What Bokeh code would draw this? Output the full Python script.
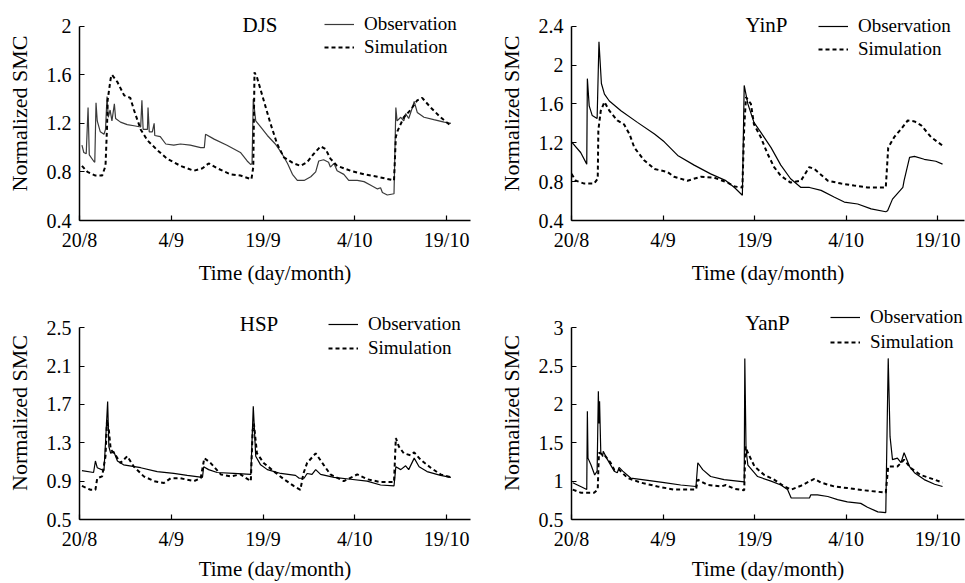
from bokeh.plotting import figure
from bokeh.layouts import column, row
from bokeh.models import FixedTicker, Legend, Label, Range1d
from bokeh.embed import file_html
from bokeh.resources import INLINE

# x = days after 20 Aug
x_ticks = [0, 15, 30, 45, 60]
x_tick_labels = ["20/8", "4/9", "19/9", "4/10", "19/10"]

djs_obs_day = [0.4, 0.7, 1.1, 1.4, 1.6, 2.3, 2.5, 2.7, 2.9, 3.4, 4.0, 4.25, 4.5, 4.7, 5.0, 5.3, 5.7, 5.9, 6.7, 7.8, 8.9, 10.0, 10.2, 10.4, 11.1, 11.2, 11.4, 11.9, 12.2, 12.3, 13.2, 14.1, 15.4, 16.5, 18.1, 19.8, 20.4, 20.6, 22.0, 24.1, 26.3, 27.4, 28.0, 28.2, 28.4, 28.8, 29.6, 30.7, 32.0, 33.1, 34.0, 34.8, 35.6, 36.7, 37.8, 38.6, 39.1, 39.9, 40.7, 41.0, 41.6, 42.1, 43.2, 44.0, 45.4, 46.5, 47.6, 48.7, 49.2, 49.5, 50.3, 51.4, 51.7, 51.9, 52.5, 53.0, 53.3, 53.8, 54.4, 54.7, 55.2, 56.3, 57.9, 59.6, 60.7]
djs_obs_val = [1.02, 0.96, 0.95, 1.33, 0.94, 0.89, 0.88, 1.37, 1.22, 1.13, 1.11, 1.15, 1.42, 1.25, 1.31, 1.22, 1.36, 1.24, 1.21, 1.19, 1.18, 1.17, 1.39, 1.15, 1.15, 1.33, 1.13, 1.13, 1.20, 1.10, 1.09, 1.03, 1.02, 1.03, 1.02, 1.00, 1.00, 1.11, 1.07, 1.02, 0.96, 0.89, 0.86, 0.87, 1.40, 1.22, 1.17, 1.10, 1.03, 0.95, 0.87, 0.78, 0.73, 0.73, 0.76, 0.80, 0.89, 0.90, 0.88, 0.84, 0.87, 0.81, 0.78, 0.73, 0.73, 0.72, 0.69, 0.66, 0.67, 0.63, 0.61, 0.62, 1.33, 1.22, 1.25, 1.22, 1.28, 1.24, 1.33, 1.38, 1.29, 1.25, 1.23, 1.21, 1.20]
djs_sim_day = [0.4, 1.3, 2.6, 3.7, 4.25, 4.5, 4.6, 5.1, 5.3, 6.2, 7.3, 8.3, 8.9, 10.0, 11.1, 12.7, 14.3, 16.5, 18.7, 20.1, 21.1, 22.5, 24.7, 26.3, 28.1, 28.4, 28.6, 29.0, 30.1, 31.2, 32.3, 33.4, 35.0, 36.1, 37.2, 38.3, 39.4, 40.2, 41.0, 42.1, 44.3, 46.5, 48.7, 51.4, 51.7, 52.0, 53.0, 54.1, 55.2, 56.0, 57.4, 59.0, 60.7]
djs_sim_val = [0.85, 0.80, 0.77, 0.77, 0.85, 1.17, 1.39, 1.57, 1.60, 1.54, 1.43, 1.41, 1.31, 1.15, 1.06, 0.98, 0.91, 0.85, 0.81, 0.83, 0.87, 0.83, 0.78, 0.77, 0.74, 0.84, 1.62, 1.58, 1.39, 1.20, 1.03, 0.92, 0.87, 0.85, 0.88, 0.95, 1.01, 0.99, 0.91, 0.85, 0.81, 0.78, 0.76, 0.73, 1.09, 1.14, 1.25, 1.31, 1.39, 1.41, 1.33, 1.25, 1.18]

yinp_obs_day = [0, 1.5, 2.5, 2.6, 2.9, 3.4, 4.2, 4.5, 4.9, 5.4, 6.2, 8.1, 10.8, 13.6, 15.2, 17.4, 20.1, 22.8, 25.3, 26.7, 28.0, 28.3, 28.9, 29.9, 31.0, 32.7, 34.3, 35.9, 37.6, 39.0, 40.9, 43.1, 44.7, 46.9, 49.1, 51.5, 51.8, 52.6, 54.3, 54.5, 55.4, 56.2, 57.8, 59.7, 60.8]
yinp_obs_val = [1.21, 1.10, 0.98, 1.86, 1.58, 1.48, 1.45, 2.24, 1.81, 1.70, 1.63, 1.53, 1.41, 1.29, 1.21, 1.07, 0.97, 0.88, 0.81, 0.74, 0.66, 1.79, 1.60, 1.41, 1.31, 1.15, 0.97, 0.83, 0.74, 0.74, 0.71, 0.64, 0.59, 0.57, 0.52, 0.49, 0.50, 0.62, 0.74, 0.81, 1.05, 1.06, 1.03, 1.01, 0.98]
yinp_sim_day = [0, 0.7, 2.1, 3.7, 4.3, 4.4, 4.8, 5.4, 6.2, 7.5, 8.6, 9.5, 10.3, 11.9, 13.6, 15.7, 16.8, 19.0, 21.2, 23.4, 25.6, 26.7, 28.0, 28.3, 28.6, 29.4, 29.9, 31.0, 32.1, 33.2, 34.3, 35.9, 37.6, 38.96, 39.8, 42.0, 44.2, 46.3, 48.5, 51.5, 51.9, 52.9, 54.0, 55.1, 56.2, 57.3, 58.9, 60.8]
yinp_sim_val = [0.88, 0.81, 0.78, 0.78, 0.83, 1.33, 1.53, 1.62, 1.53, 1.43, 1.39, 1.29, 1.15, 1.02, 0.93, 0.90, 0.85, 0.81, 0.85, 0.84, 0.79, 0.75, 0.74, 1.36, 1.67, 1.60, 1.39, 1.26, 1.09, 0.95, 0.86, 0.79, 0.81, 0.95, 0.93, 0.81, 0.78, 0.76, 0.74, 0.74, 1.15, 1.26, 1.34, 1.43, 1.42, 1.38, 1.26, 1.17]

hsp_obs_day = [0.4, 2.3, 2.6, 2.9, 4.0, 4.25, 4.6, 4.8, 5.1, 5.6, 5.9, 6.2, 7.2, 10.0, 12.7, 15.4, 17.6, 20.1, 20.3, 21.1, 22.5, 25.2, 28.0, 28.4, 28.8, 29.6, 30.7, 32.9, 35.3, 35.9, 36.7, 37.2, 38.0, 38.6, 39.4, 41.6, 44.3, 47.0, 49.2, 51.4, 51.7, 52.5, 53.3, 53.8, 54.7, 55.5, 56.8, 59.0, 60.7]
hsp_obs_val = [1.01, 0.99, 1.11, 1.04, 1.01, 1.30, 1.73, 1.26, 1.19, 1.21, 1.16, 1.11, 1.07, 1.04, 1.00, 0.98, 0.96, 0.94, 1.05, 1.02, 0.99, 0.98, 0.97, 1.68, 1.16, 1.07, 1.02, 0.98, 0.96, 0.93, 0.93, 0.98, 0.97, 1.02, 0.97, 0.94, 0.92, 0.90, 0.86, 0.85, 1.05, 1.02, 1.06, 1.02, 1.14, 1.05, 1.00, 0.96, 0.94]
hsp_sim_day = [0.4, 1.8, 2.6, 2.9, 3.7, 4.25, 4.5, 4.8, 5.1, 5.9, 6.7, 7.8, 8.9, 10.5, 12.2, 13.8, 14.9, 16.5, 18.7, 19.8, 20.4, 21.4, 23.1, 24.7, 26.3, 28.0, 28.3, 28.5, 29.0, 30.1, 31.8, 33.4, 35.0, 36.1, 36.6, 37.2, 38.6, 39.9, 41.0, 43.2, 45.4, 47.0, 49.2, 51.4, 51.7, 52.2, 53.0, 54.1, 54.7, 55.8, 57.4, 59.0, 60.7]
hsp_sim_val = [0.85, 0.81, 0.81, 0.93, 0.95, 1.16, 1.54, 1.43, 1.23, 1.17, 1.09, 1.16, 1.05, 0.95, 0.90, 0.88, 0.93, 0.93, 0.90, 0.93, 1.14, 1.09, 0.97, 0.95, 0.97, 0.90, 1.43, 1.50, 1.19, 1.09, 1.00, 0.92, 0.85, 0.81, 0.98, 1.09, 1.19, 1.07, 0.97, 0.90, 0.97, 0.92, 0.89, 0.89, 1.35, 1.26, 1.19, 1.17, 1.20, 1.12, 1.04, 0.97, 0.94]

yanp_obs_day = [0.2, 1.5, 2.5, 2.6, 2.7, 3.2, 3.8, 4.2, 4.4, 4.5, 4.6, 4.8, 5.1, 5.2, 5.9, 7.0, 7.5, 7.8, 8.4, 9.7, 12.5, 15.2, 17.9, 20.4, 20.7, 21.5, 22.8, 25.0, 28.3, 28.4, 28.6, 28.9, 30.5, 32.7, 34.3, 35.4, 36.0, 39.0, 39.2, 40.3, 42.0, 43.6, 45.2, 47.4, 48.5, 50.2, 51.5, 51.9, 52.2, 52.6, 53.4, 54.0, 54.5, 55.4, 56.2, 57.8, 59.5, 60.8]
yanp_obs_val = [0.98, 0.93, 0.89, 1.91, 1.30, 1.21, 1.08, 1.13, 2.17, 1.75, 2.04, 1.37, 1.32, 1.39, 1.28, 1.13, 1.11, 1.18, 1.13, 1.04, 1.01, 0.98, 0.95, 0.93, 1.24, 1.15, 1.06, 1.02, 0.99, 2.60, 1.41, 1.21, 1.06, 1.00, 0.95, 0.89, 0.78, 0.78, 0.82, 0.82, 0.80, 0.76, 0.73, 0.71, 0.66, 0.60, 0.59, 2.60, 1.58, 1.28, 1.30, 1.24, 1.37, 1.19, 1.11, 1.02, 0.96, 0.93]
yanp_sim_day = [0.2, 1.5, 3.7, 4.3, 4.4, 4.5, 5.4, 6.4, 7.0, 7.8, 9.2, 11.4, 14.1, 16.8, 20.4, 20.7, 22.3, 24.5, 25.3, 26.7, 28.3, 28.5, 28.9, 30.0, 31.6, 33.2, 34.9, 36.0, 37.6, 39.8, 40.9, 43.1, 45.2, 48.0, 51.5, 51.9, 53.4, 54.5, 55.6, 57.2, 59.5, 60.8]
yanp_sim_val = [0.89, 0.85, 0.85, 0.89, 1.15, 1.37, 1.34, 1.24, 1.15, 1.15, 1.04, 0.98, 0.93, 0.89, 0.89, 1.02, 0.95, 0.93, 0.95, 0.90, 0.88, 1.45, 1.37, 1.19, 1.08, 1.02, 0.93, 0.89, 0.94, 1.03, 0.98, 0.93, 0.91, 0.88, 0.85, 1.19, 1.19, 1.28, 1.17, 1.08, 1.02, 0.98]

djs_y_ticks = [0.4, 0.8, 1.2, 1.6, 2]
yinp_y_ticks = [0.4, 0.8, 1.2, 1.6, 2, 2.4]
hsp_y_ticks = [0.5, 0.9, 1.3, 1.7, 2.1, 2.5]
yanp_y_ticks = [0.5, 1, 1.5, 2, 2.5, 3]

FONT = "Liberation Serif"


def make_panel(name, obs_x, obs_y, sim_x, sim_y, yticks, width, height,
               left, right, top, bottom, frame_h, axis_h, xmax, title_pos,
               leg_loc, leg_spacing, obs_color, tick_standoff, label_standoff):
    # the axis line spans only the tick range; the frame extends a little
    # higher so that the panel name and legend sit inside it
    span = yticks[-1] - yticks[0]
    ytop = yticks[0] + span * frame_h / axis_h
    p = figure(width=width, height=height, output_backend="svg",
               toolbar_location=None, min_border_left=left,
               min_border_right=right, min_border_top=top,
               min_border_bottom=bottom,
               x_range=Range1d(0, xmax),
               y_range=Range1d(yticks[0], ytop))
    p.outline_line_color = None
    p.background_fill_color = "white"
    p.border_fill_color = "white"
    p.xgrid.visible = False
    p.ygrid.visible = False
    r1 = p.line(obs_x, obs_y, line_color=obs_color, line_width=1.2)
    r2 = p.line(sim_x, sim_y, line_color="black", line_width=2,
                line_dash="4 3")
    for ax in (p.xaxis[0], p.yaxis[0]):
        ax.axis_line_width = 1.5
        ax.axis_line_color = "black"
        ax.major_tick_in = 5
        ax.major_tick_out = 0
        ax.major_tick_line_width = 1.2
        ax.minor_tick_line_color = None
        ax.major_label_text_font = FONT
        ax.major_label_text_font_size = "20px"
        ax.major_label_text_color = "black"
        ax.axis_label_text_font = FONT
        ax.axis_label_text_font_size = "21px"
        ax.axis_label_text_font_style = "normal"
        ax.axis_label_text_color = "black"
    xa = p.xaxis[0]
    xa.ticker = FixedTicker(ticks=x_ticks)
    xa.major_label_overrides = {t: l for t, l in zip(x_ticks, x_tick_labels)}
    xa.major_label_standoff = tick_standoff
    xa.axis_label = "Time (day/month)"
    xa.axis_label_standoff = label_standoff
    ya = p.yaxis[0]
    ya.ticker = FixedTicker(ticks=yticks)
    ya.bounds = (yticks[0], yticks[-1])
    ya.major_label_overrides = {t: (str(int(t)) if float(t).is_integer() else str(t)) for t in yticks}
    ya.major_label_standoff = 8
    ya.axis_label = "Normalized SMC"
    ya.axis_label_standoff = 12
    ya.axis_label_text_font_size = "22px"

    lab = Label(x=title_pos[0], y=title_pos[1], x_units="screen",
                y_units="screen", text=name, text_font=FONT,
                text_font_size="21px", text_align="center",
                text_baseline="middle", text_color="black")
    p.add_layout(lab)

    leg = Legend(items=[("Observation", [r1]), ("Simulation", [r2])],
                 location=leg_loc, orientation="vertical")
    leg.label_text_font = FONT
    leg.label_text_font_size = "19px"
    leg.label_text_color = "black"
    leg.glyph_width = 30
    leg.glyph_height = 22
    leg.label_height = 22
    leg.label_standoff = 10
    leg.spacing = leg_spacing
    leg.padding = 0
    leg.margin = 0
    leg.border_line_color = None
    leg.background_fill_alpha = 0
    p.add_layout(leg)
    return p


# top row: figure 0..300, frame 6..220 ; tick range 25.7..220
# bottom row: figure 300..583, frame 306..520 ; tick range 327.3..520
p1 = make_panel("DJS", djs_obs_day, djs_obs_val, djs_sim_day, djs_sim_val,
                djs_y_ticks, 485, 300, 79, 15, 6, 80, 214, 194.3, 63.9,
                (180.5, 196), (245, 162), 1, "#3a3a3a", 8, 7)
p2 = make_panel("YinP", yinp_obs_day, yinp_obs_val, yinp_sim_day, yinp_sim_val,
                yinp_y_ticks, 480, 300, 86, 1, 6, 80, 214, 194.3, 64.4,
                (195, 196), (247, 160), 1, "black", 8, 7)
p3 = make_panel("HSP", hsp_obs_day, hsp_obs_val, hsp_sim_day, hsp_sim_val,
                hsp_y_ticks, 485, 283, 79, 15, 6, 63, 214, 192.7, 63.9,
                (179.5, 196), (249, 160), 2, "black", 8, 4)
p4 = make_panel("YanP", yanp_obs_day, yanp_obs_val, yanp_sim_day, yanp_sim_val,
                yanp_y_ticks, 480, 283, 86, 1, 6, 63, 214, 192.7, 64.4,
                (196, 197), (259, 166), 3, "black", 8, 4)

layout = column(row(p1, p2), row(p3, p4))
open("out.html", "w").write(file_html(layout, INLINE))
